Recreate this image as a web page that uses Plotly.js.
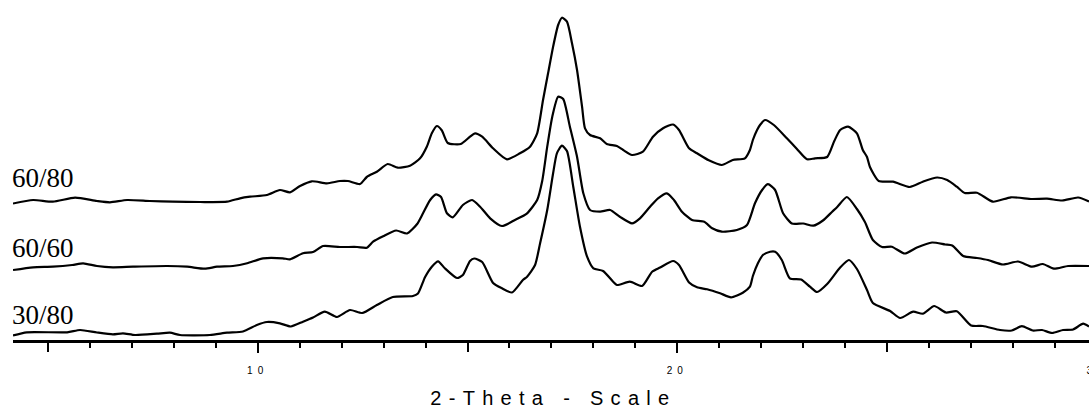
<!DOCTYPE html>
<html>
<head>
<meta charset="utf-8">
<script src="https://cdn.plot.ly/plotly-3.0.1.min.js"></script>
<style>
  html, body { margin: 0; padding: 0; background: #fff; overflow: hidden; width: 1089px; height: 408px; }
  #chart { width: 1110px; height: 408px; }
  .xtick text { letter-spacing: 5px; }
  .annotation[data-index="3"] text { letter-spacing: 7.3px; }
</style>
</head>
<body>
<div id="chart"></div>
<script>
// ---- Data (2-Theta in degrees, intensity in arbitrary stacked units) ----
const seriesNames = ["60/80", "60/60", "30/80"];
const xTitle = "2-Theta - Scale";

const x_6080 = [4.17,4.65,5.12,5.65,6.17,6.48,6.89,7.43,7.98,8.63,9.27,9.58,9.82,10.22,10.53,10.77,11.01,11.29,11.65,11.96,12.15,12.44,12.60,12.84,13.10,13.34,13.63,13.87,14.03,14.15,14.27,14.39,14.53,14.84,15.06,15.18,15.35,15.61,15.94,16.25,16.49,16.66,16.80,16.92,17.04,17.16,17.25,17.37,17.49,17.61,17.73,17.80,17.92,18.16,18.32,18.56,18.71,18.92,19.18,19.42,19.66,19.90,20.04,20.28,20.47,20.75,21.06,21.32,21.61,21.73,21.80,21.90,21.97,22.09,22.30,22.61,22.85,23.09,23.28,23.57,23.74,23.88,24.07,24.28,24.42,24.52,24.59,24.80,25.14,25.54,25.85,26.19,26.43,26.66,26.85,27.14,27.52,27.95,28.45,28.81,29.17,29.55,29.81];
const y_6080 = [136.5,140,138.3,142.3,139,137.7,140,139,138.3,138,138.3,141.7,143.3,145,150,147.7,154,158.7,156.7,159,159,156,163,168.3,176,172.3,174.3,181.7,193.3,206.7,214,209.5,197,196,203.3,206.7,203.3,191.7,180.7,186.7,193.3,206.7,240,266.7,293.3,315,322.3,318.3,296.7,270,233.3,211.7,205,201.7,196,194,190,185,188.3,203.3,211.7,215.5,210,191.7,186.7,179.7,175,180,181.7,190,200,210,215,220,215,201.7,191,180.7,181.7,183,199,210,213.3,206.7,190,183,173,159,158.3,153,158.3,162.5,160,153.3,147,147.3,138.3,142.7,141,141.3,139.5,142.5,138.5];

const x_6060 = [4.17,4.65,5.12,5.58,5.84,6.17,6.55,7.03,7.84,8.32,8.74,9.03,9.41,9.75,10.13,10.60,10.77,11.08,11.32,11.56,11.96,12.37,12.60,12.75,12.99,13.30,13.56,13.80,13.94,14.11,14.25,14.37,14.51,14.65,14.89,15.11,15.30,15.54,15.82,16.13,16.42,16.66,16.78,16.90,17.02,17.16,17.28,17.44,17.61,17.76,17.92,18.16,18.40,18.63,18.92,19.11,19.35,19.54,19.75,19.92,20.11,20.35,20.64,20.83,21.06,21.42,21.66,21.85,22.02,22.16,22.33,22.52,22.73,23.00,23.24,23.47,23.69,23.81,24.04,24.28,24.47,24.66,24.88,25.11,25.42,25.71,26.07,26.38,26.55,26.81,27.14,27.40,27.76,28.12,28.45,28.71,28.97,29.31,29.81];
const y_6060 = [70,72.7,73.3,75,76.7,74,72.7,73.3,74,73.3,71.3,73.3,74,76.7,81.7,81.7,80.7,86.7,88,94,93,93,92.3,98.3,103.7,109.5,106.5,116,126.7,140,145.7,143,126.7,122.7,135,140,133.3,121.7,114,120,126.7,140,159,193.3,223.3,243.3,241,213.3,183.3,146.7,130,128.3,130,123.3,116.7,121.7,133.3,141.7,146.7,140,128.3,120,118.3,111.7,108.3,110,115,136.7,150,155.8,150,126.7,116.5,116.5,114.3,119.5,128.3,133,143,131,118,100,93,93.3,86.5,92.5,97.5,95.5,94.5,84,82,80,75.5,78.5,73.3,76,71.3,74,74];

const x_3080 = [4.17,4.50,5.46,5.77,6.17,6.55,6.79,7.08,7.60,7.91,8.15,8.86,9.27,9.65,9.98,10.22,10.53,10.79,11.08,11.32,11.60,11.89,12.20,12.49,12.84,13.22,13.70,13.82,13.99,14.15,14.30,14.46,14.75,14.89,15.06,15.16,15.35,15.61,15.82,16.06,16.32,16.42,16.61,16.73,16.90,17.04,17.13,17.25,17.37,17.52,17.68,17.85,18.00,18.23,18.47,18.56,18.87,19.16,19.40,19.59,19.90,20.04,20.28,20.47,20.71,21.02,21.28,21.56,21.73,21.80,21.92,22.04,22.21,22.33,22.49,22.68,22.95,23.16,23.33,23.57,23.88,24.09,24.28,24.52,24.66,25.07,25.31,25.62,25.85,26.12,26.40,26.66,27.00,27.28,27.69,27.97,28.21,28.47,28.69,28.93,29.19,29.43,29.67,29.81];
const y_3080 = [4.5,7.7,7.7,10,7.5,5.7,6.7,5,6.3,7.3,5,5,7.3,8.5,15,18,16.7,13.5,18.3,22.5,28.3,23,30,27,35,43,44,46.5,63,73.3,78.7,71.7,62,65,79,81.5,78,57,51.7,47.5,60,63.3,75,96.7,130,166.7,186.7,194.3,189,153.3,113.3,83.3,71.7,69,58.3,55,58.3,54,68.3,72.5,79,75,57.5,52.7,50.7,46.7,42.7,47.3,53.3,64,76.7,85,88.3,88.3,80,61.7,60.5,53.3,48,56,72.5,80,71,50,37,29,22,28.3,26.3,34,27.5,28.8,14.5,14,10,9.5,13.8,9.5,10,7,10,10.5,16.3,13.5];

// label anchor heights (same units as the stacked intensities)
const labelY = [162, 92, 25.5];

const xTickVals = [5, 10, 15, 20, 25, 30];
const xTickText = ["", "10", "", "20", "", "30"];
const xMajorVals = [10, 20, 30];
const xRange = [4.17, 30.31];

const lineStyle = { color: "#000", width: 2.2, shape: "spline", smoothing: 0.6 };

const traces = [
  { x: x_6080, y: y_6080, type: "scatter", mode: "lines", line: lineStyle, name: seriesNames[0], hoverinfo: "skip" },
  { x: x_6060, y: y_6060, type: "scatter", mode: "lines", line: lineStyle, name: seriesNames[1], hoverinfo: "skip" },
  { x: x_3080, y: y_3080, type: "scatter", mode: "lines", line: lineStyle, name: seriesNames[2], hoverinfo: "skip", xaxis: "x2" }
];

const annotations = seriesNames.map((n, i) => ({
  text: n, xref: "paper", yref: "y", x: -0.003, y: labelY[i],
  xanchor: "left", yanchor: "middle", showarrow: false,
  font: { family: "Liberation Serif, 'Times New Roman', serif", size: 27, color: "#000" }
}));
annotations.push({
  text: xTitle, xref: "paper", yref: "paper", x: 0.4928, y: -0.1706,
  xanchor: "center", yanchor: "middle", showarrow: false,
  font: { family: "Liberation Sans, Arial, sans-serif", size: 20, color: "#000" }
});

const layout = {
  width: 1110, height: 408,
  margin: { l: 13, r: 0, t: 0, b: 68 },
  paper_bgcolor: "#fff", plot_bgcolor: "#fff",
  showlegend: false,
  xaxis: {
    range: xRange, showgrid: false, zeroline: false,
    showline: true, linecolor: "#000", linewidth: 3,
    ticks: "outside", tickmode: "array", tickvals: xTickVals, ticktext: xTickText,
    ticklen: 9, tickwidth: 2, tickcolor: "#000",
    minor: { tick0: 0, dtick: 1, ticks: "outside", ticklen: 5, tickwidth: 2, tickcolor: "#000", showgrid: false },
    tickfont: { family: "Liberation Sans, Arial, sans-serif", size: 10, color: "#000" },
    ticklabelstandoff: 10,
    fixedrange: true
  },
  xaxis2: {
    overlaying: "x", anchor: "y", side: "bottom",
    range: xRange, showgrid: false, zeroline: false, showline: false,
    ticks: "outside", tickmode: "array", tickvals: xMajorVals,
    ticklen: 12, tickwidth: 2, tickcolor: "#000", showticklabels: false,
    fixedrange: true
  },
  yaxis: { range: [0, 340], visible: false, fixedrange: true },
  annotations: annotations
};

Plotly.newPlot("chart", traces, layout, { staticPlot: true, displayModeBar: false });
</script>
</body>
</html>
